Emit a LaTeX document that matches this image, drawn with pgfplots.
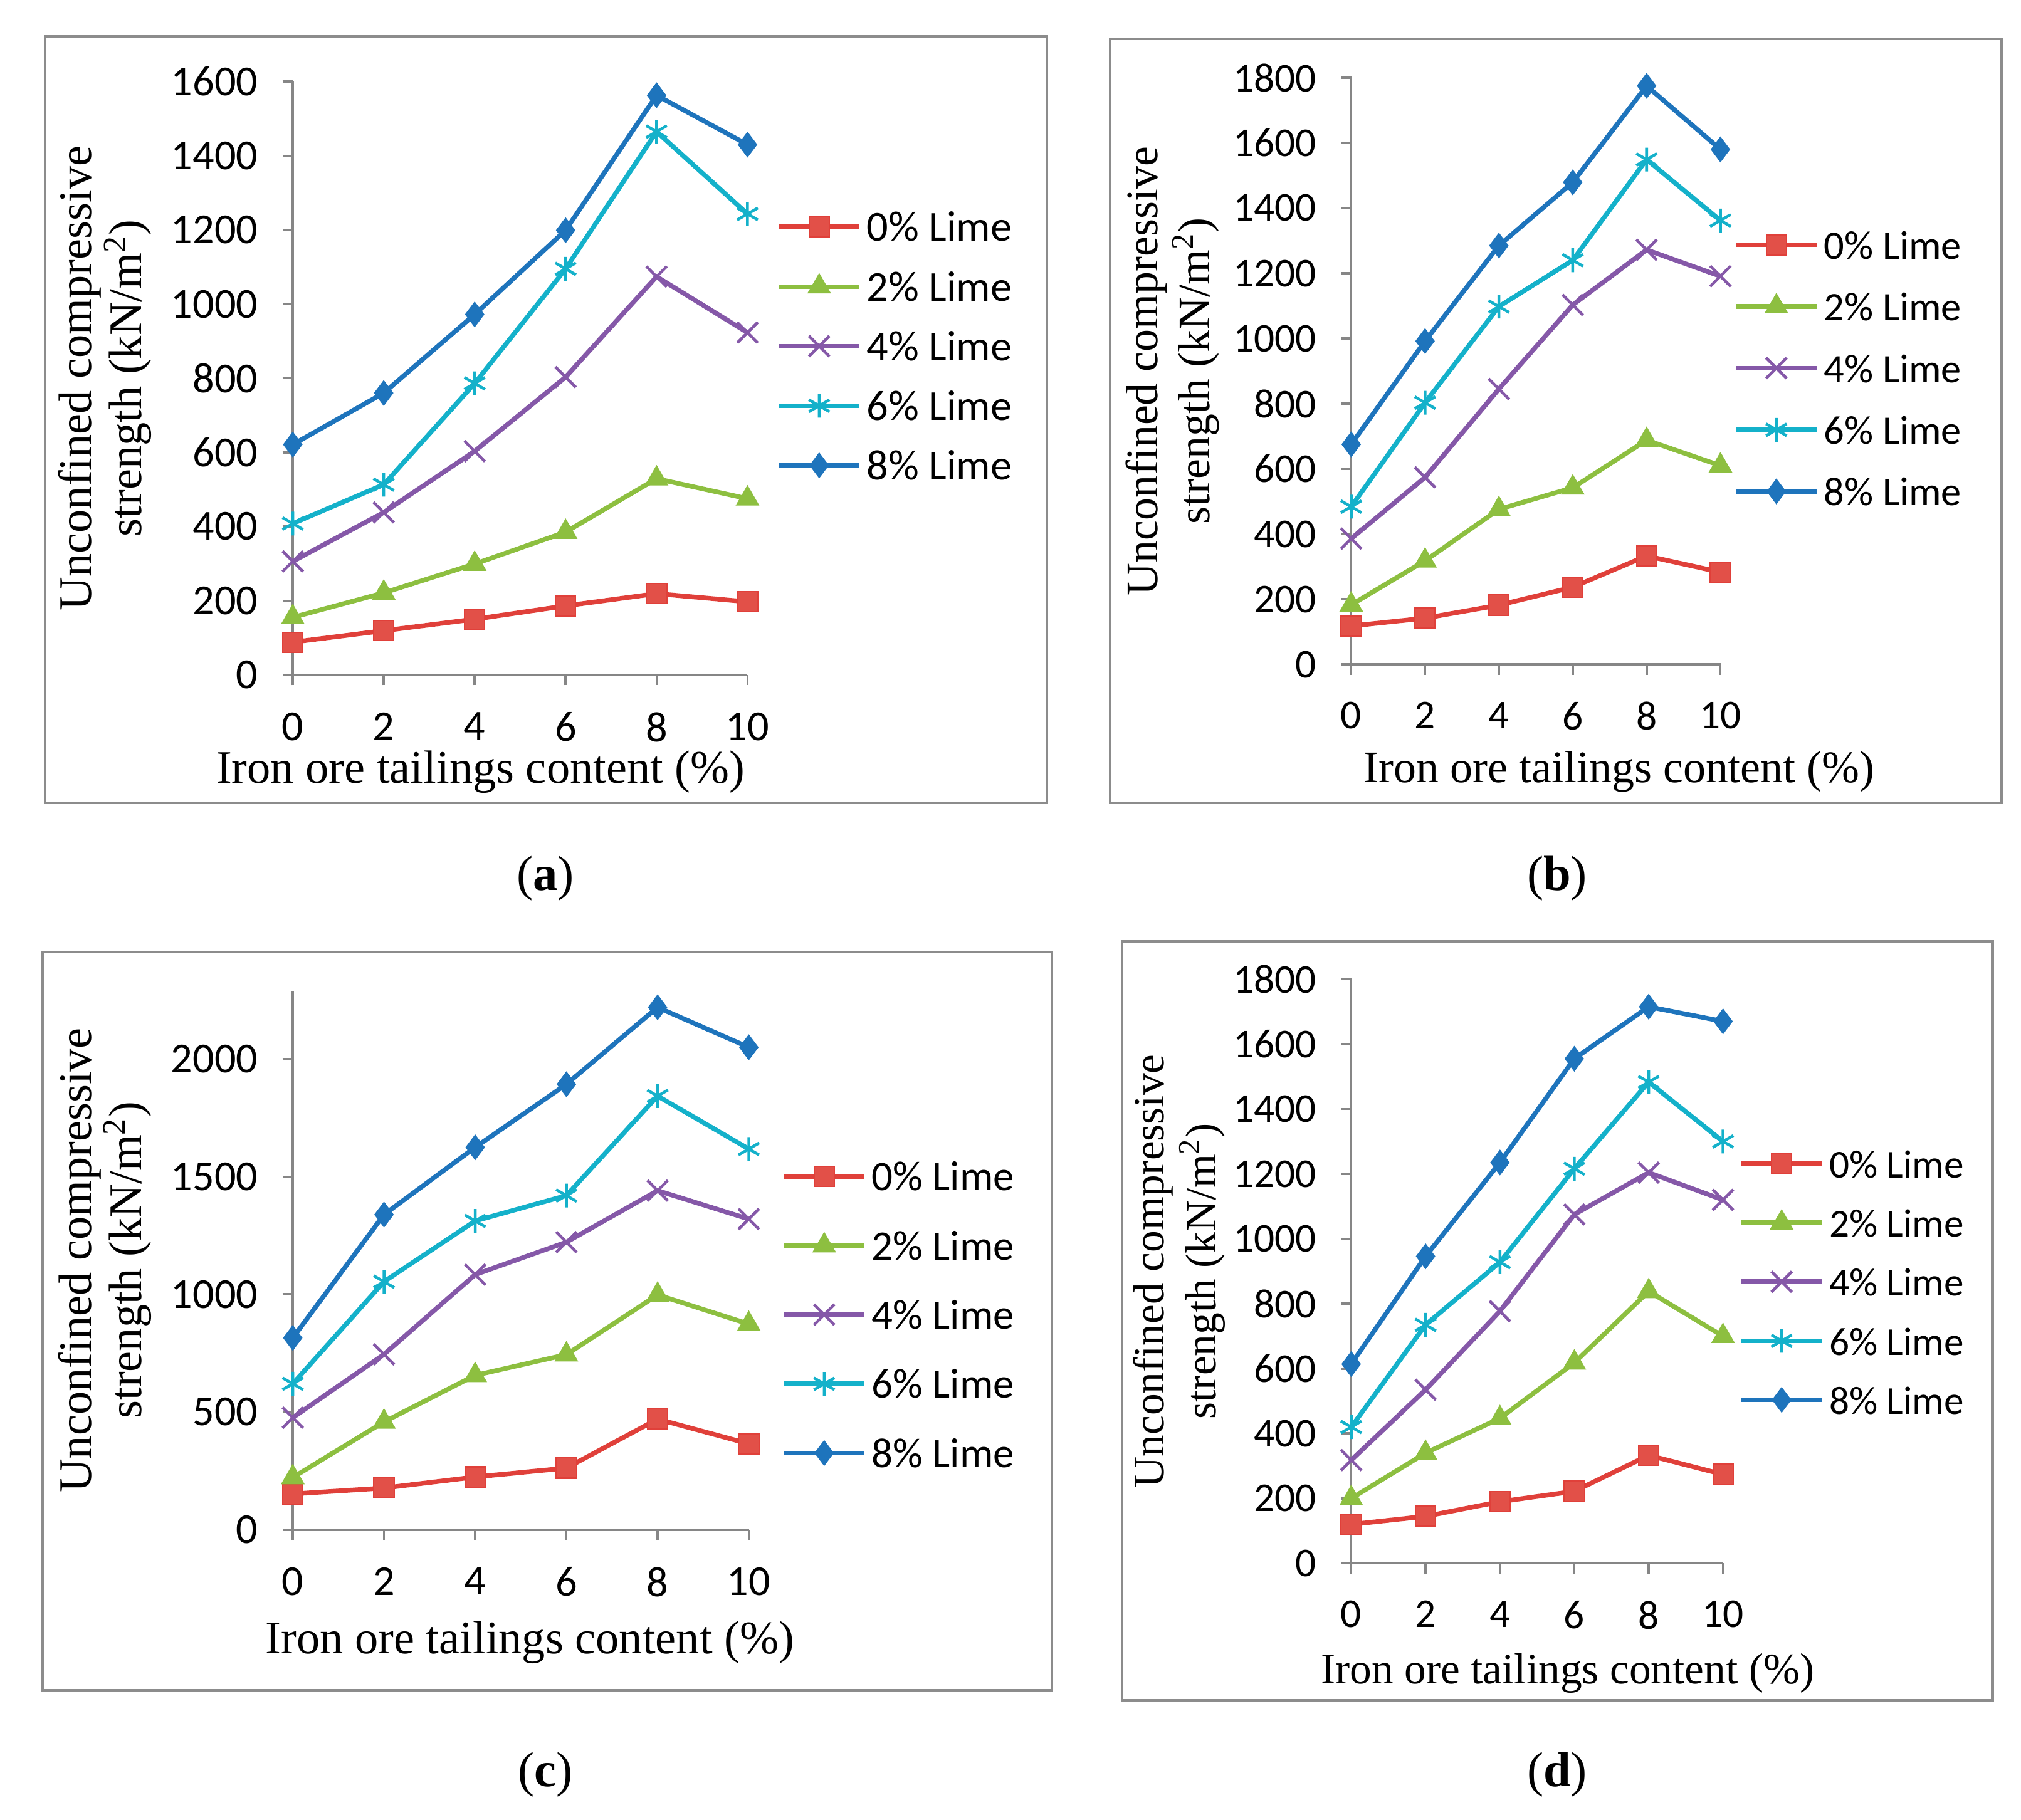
\documentclass[border=0pt]{standalone}
\usepackage{fontspec}
\setmainfont{Carlito}
\newfontfamily\tnr{Liberation Serif}
\usepackage{pgfplots}
\pgfplotsset{compat=1.18}
\definecolor{cRed}{HTML}{E0403A}
\definecolor{cRedF}{HTML}{E25048}
\definecolor{cGreen}{HTML}{8DBF40}
\definecolor{cPurple}{HTML}{8558A8}
\definecolor{cCyan}{HTML}{14B1CA}
\definecolor{cBlue}{HTML}{1E74BC}
\definecolor{axgray}{HTML}{868686}
\definecolor{boxgray}{HTML}{8C8C8C}
\pgfplotsset{
  panel/.style={
    scale only axis, xmin=0, xmax=10, ymin=0, enlargelimits=false,
    axis x line=bottom, axis y line=left,
    axis line style={-, draw=axgray, line width=0.9pt},
    xtick={0,2,4,6,8,10},
    tick align=outside, major tick length=4pt,
    tick style={draw=axgray, line width=0.9pt},
    clip=false,
    /pgf/number format/assume math mode=true,
    /pgf/number format/1000 sep={},
    xticklabel style={yshift=-7pt},
    yticklabel style={xshift=-6pt},
    legend cell align=left,
    legend image code/.code={\draw[mark repeat=2,mark phase=2] plot coordinates {(0pt,0pt) (15.5pt,0pt) (31pt,0pt)};},
    every axis plot/.append style={line width=1.8pt},
  },
  s0/.style={color=cRed, mark=square*, mark size=3.9pt, mark options={solid, fill=cRedF, line width=0.5pt}},
  s2/.style={color=cGreen, mark=triangle*, mark size=4.8pt, mark options={solid, line width=0.5pt}},
  s4/.style={color=cPurple, mark=x, mark size=5.6pt, mark options={solid, line width=1.1pt}},
  s6/.style={color=cCyan, mark=asterisk, mark size=4.6pt, mark options={solid, line width=1.1pt}},
  s8/.style={color=cBlue, mark=diamond*, mark size=4.6pt, mark options={solid, line width=0.5pt}},
}
\newcommand{\tickfont}[1]{\fontsize{#1}{#1}\selectfont}
\begin{document}
\begin{tikzpicture}
\useasboundingbox (0,0) rectangle (780pt,702.5pt);
% boxes
\draw[boxgray, line width=1pt] (17.5pt,392.5pt) rectangle (404pt,688.5pt);
\draw[boxgray, line width=1pt] (428.5pt,392.5pt) rectangle (772.5pt,687.5pt);
\draw[boxgray, line width=1pt] (16.5pt,50pt) rectangle (406pt,335pt);
\draw[boxgray, line width=1pt] (433pt,46pt) rectangle (769pt,339pt);
% captions
\node[font=\tnr\fontsize{19}{22}\selectfont] at (210.5pt,363.5pt) {(\textbf{a})};
\node[font=\tnr\fontsize{19}{22}\selectfont] at (601pt,363.5pt) {(\textbf{b})};
\node[font=\tnr\fontsize{19}{22}\selectfont] at (210.5pt,17.5pt) {(\textbf{c})};
\node[font=\tnr\fontsize{19}{22}\selectfont] at (601pt,17.5pt) {(\textbf{d})};

% ---------------- (a)
\begin{axis}[panel, at={(113pt,442pt)}, anchor=south west,
  width=175.5pt, height=229pt, ymax=1600, ytick={0,200,...,1600},
  ticklabel style={font=\tickfont{16.5}},
  xlabel={Iron ore tailings content (\%)},
  xlabel style={font=\tnr\fontsize{18}{20}\selectfont, at={(axis description cs:0.413,-0.1638)}, anchor=center},
  ylabel={Unconfined compressive\\strength (kN/m\textsuperscript{2})},
  ylabel style={font=\tnr\fontsize{18}{19.5}\selectfont, align=center, at={(axis description cs:-0.413,0.5)}, anchor=center},
  legend style={draw=none, fill=none, inner sep=0pt, at={(1.063,0.554)}, anchor=west, row sep=12pt,
    nodes={font=\tickfont{16.5}, text height=11pt, text depth=0pt, inner ysep=0pt, inner xsep=2pt}},
]
\addplot[s0] coordinates {(0,88) (2,119) (4,150) (6,186) (8,219) (10,197)};
\addplot[s2] coordinates {(0,155) (2,221) (4,299) (6,385) (8,529) (10,475)};
\addplot[s4] coordinates {(0,306) (2,438) (4,603) (6,803) (8,1074) (10,923)};
\addplot[s6] coordinates {(0,408) (2,513) (4,786) (6,1095) (8,1465) (10,1243)};
\addplot[s8] coordinates {(0,621) (2,760) (4,972) (6,1199) (8,1563) (10,1430)};
\legend{0\% Lime,2\% Lime,4\% Lime,6\% Lime,8\% Lime}
\end{axis}

% ---------------- (b)
\begin{axis}[panel, at={(521.5pt,446pt)}, anchor=south west,
  width=142.5pt, height=226.5pt, ymax=1800, ytick={0,200,...,1800},
  ticklabel style={font=\tickfont{15.8}},
  xlabel={Iron ore tailings content (\%)},
  xlabel style={font=\tnr\fontsize{17.4}{20}\selectfont, at={(axis description cs:0.726,-0.1832)}, anchor=center},
  ylabel={Unconfined compressive\\strength (kN/m\textsuperscript{2})},
  ylabel style={font=\tnr\fontsize{17.4}{20}\selectfont, align=center, at={(axis description cs:-0.484,0.5)}, anchor=center},
  legend style={draw=none, fill=none, inner sep=0pt, at={(1.035,0.505)}, anchor=west, row sep=12.8pt,
    nodes={font=\tickfont{15.6}, text height=11pt, text depth=0pt, inner ysep=0pt, inner xsep=2pt}},
]
\addplot[s0] coordinates {(0,118) (2,142) (4,182) (6,237) (8,333) (10,283)};
\addplot[s2] coordinates {(0,183) (2,318) (4,476) (6,542) (8,688) (10,610)};
\addplot[s4] coordinates {(0,386) (2,574) (4,845) (6,1103) (8,1272) (10,1191)};
\addplot[s6] coordinates {(0,484) (2,803) (4,1098) (6,1240) (8,1549) (10,1362)};
\addplot[s8] coordinates {(0,675) (2,992) (4,1285) (6,1479) (8,1775) (10,1580)};
\legend{0\% Lime,2\% Lime,4\% Lime,6\% Lime,8\% Lime}
\end{axis}

% ---------------- (c)
\begin{axis}[panel, at={(113pt,112pt)}, anchor=south west,
  width=176pt, height=208pt, ymax=2290, ytick={0,500,...,2000},
  ticklabel style={font=\tickfont{16.5}},
  xlabel={Iron ore tailings content (\%)},
  xlabel style={font=\tnr\fontsize{18}{20}\selectfont, at={(axis description cs:0.52,-0.209)}, anchor=center},
  ylabel={Unconfined compressive\\strength (kN/m\textsuperscript{2})},
  ylabel style={font=\tnr\fontsize{18}{19.5}\selectfont, align=center, at={(axis description cs:-0.412,0.5)}, anchor=center},
  legend style={draw=none, fill=none, inner sep=0pt, at={(1.071,0.399)}, anchor=west, row sep=15.7pt,
    nodes={font=\tickfont{16.2}, text height=11pt, text depth=0pt, inner ysep=0pt, inner xsep=2pt}},
]
\addplot[s0] coordinates {(0,152) (2,177) (4,224) (6,262) (8,470) (10,365)};
\addplot[s2] coordinates {(0,222) (2,458) (4,656) (6,744) (8,998) (10,874)};
\addplot[s4] coordinates {(0,476) (2,745) (4,1084) (6,1222) (8,1441) (10,1320)};
\addplot[s6] coordinates {(0,620) (2,1054) (4,1312) (6,1420) (8,1843) (10,1618)};
\addplot[s8] coordinates {(0,815) (2,1339) (4,1625) (6,1893) (8,2220) (10,2050)};
\legend{0\% Lime,2\% Lime,4\% Lime,6\% Lime,8\% Lime}
\end{axis}

% ---------------- (d)
\begin{axis}[panel, at={(521.5pt,99pt)}, anchor=south west,
  width=143.5pt, height=225.5pt, ymax=1800, ytick={0,200,...,1800},
  ticklabel style={font=\tickfont{15.8}},
  xlabel={Iron ore tailings content (\%)},
  xlabel style={font=\tnr\fontsize{16.8}{20}\selectfont, at={(axis description cs:0.582,-0.1885)}, anchor=center},
  ylabel={Unconfined compressive\\strength (kN/m\textsuperscript{2})},
  ylabel style={font=\tnr\fontsize{16.8}{20}\selectfont, align=center, at={(axis description cs:-0.463,0.5)}, anchor=center},
  legend style={draw=none, fill=none, inner sep=0pt, at={(1.042,0.482)}, anchor=west, row sep=11.8pt,
    nodes={font=\tickfont{15.3}, text height=11pt, text depth=0pt, inner ysep=0pt, inner xsep=2pt}},
]
\addplot[s0] coordinates {(0,120) (2,145) (4,190) (6,222) (8,333) (10,274)};
\addplot[s2] coordinates {(0,200) (2,340) (4,447) (6,618) (8,838) (10,700)};
\addplot[s4] coordinates {(0,318) (2,535) (4,777) (6,1075) (8,1204) (10,1120)};
\addplot[s6] coordinates {(0,420) (2,735) (4,928) (6,1216) (8,1483) (10,1300)};
\addplot[s8] coordinates {(0,614) (2,946) (4,1235) (6,1555) (8,1715) (10,1670)};
\legend{0\% Lime,2\% Lime,4\% Lime,6\% Lime,8\% Lime}
\end{axis}
\end{tikzpicture}
\end{document}
